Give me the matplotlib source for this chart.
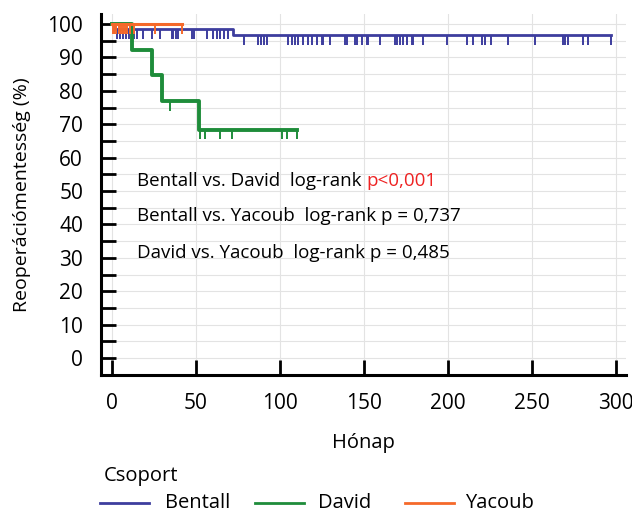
import numpy as np
import matplotlib
matplotlib.use("Agg")
import matplotlib.pyplot as plt
from matplotlib.lines import Line2D

plt.rcParams['font.family'] = ['Open Sans', 'DejaVu Sans']

# Kaplan-Meier steps (months, survival %)
bentall_t = [0, 2, 72]
bentall_s = [100, 98.5, 96.7]
bentall_end = 297
bentall_cens = [1, 3, 5, 6.9, 8.5, 10.5, 12.9, 14.9, 18.8, 23.8, 28.8, 35.7, 36.7, 38.3,
                39.1, 47.6, 49, 56.5, 60.5, 62.5, 64.5, 66.5, 69, 78.6, 87.3, 88.7, 90.5,
                92.3, 105.1, 107.1, 109.1, 111.1, 114, 117, 119.4, 122, 125, 125.6, 130,
                138.9, 139.9, 144.8, 146.2, 148.8, 151.8, 152.7, 159.7, 168.6, 170, 171.6,
                173.6, 175.6, 178.6, 179.5, 185.5, 199.4, 211.3, 215.3, 220.2, 222.2,
                225.6, 236.1, 252, 268.8, 269.8, 271.8, 280.7, 283.7, 297]

david_t = [0, 12, 24, 30, 52]
david_s = [100, 92.3, 84.6, 76.9, 68.4]
david_end = 110
david_cens = [34.7, 52.5, 55.5, 64.5, 71.8, 101.2, 104.2, 110]

yacoub_t = [0]
yacoub_s = [100]
yacoub_end = 42
yacoub_cens = [0.6, 1.4, 2.6, 4, 5.4, 6.5, 7.9, 9.3, 10.9, 12.9, 25.8, 42]

groups = ['Bentall', 'David', 'Yacoub']
colors = ['#3d3d9e', '#1e8c3a', '#f5692a']
widths = [2.0, 2.8, 2.2]

stats_lines = [("Bentall vs. David  log-rank ", "p<0,001"),
               ("Bentall vs. Yacoub  log-rank p = 0,737", None),
               ("David vs. Yacoub  log-rank p = 0,485", None)]
stats_y = [53, 42.5, 31.4]

W, H = 632, 515
fig = plt.figure(figsize=(W / 100, H / 100), dpi=100)
ax = fig.add_axes([0.160, 0.272, 0.830, 0.701])


def km(ax, t, s, end, cens, color, lw):
    xs = list(t) + [end]
    ys = list(s) + [s[-1]]
    ax.step(xs, ys, where='post', color=color, lw=lw, zorder=3)
    c = np.array(cens)
    idx = np.searchsorted(np.array(t), c, side='right') - 1
    cy = np.array(s)[idx]
    ax.vlines(c, cy - 2.9, cy, color=color, lw=1.4, zorder=3)


data = [(bentall_t, bentall_s, bentall_end, bentall_cens),
        (david_t, david_s, david_end, david_cens),
        (yacoub_t, yacoub_s, yacoub_end, yacoub_cens)]
for (t, s, end, cens), col, lw in zip(data, colors, widths):
    km(ax, t, s, end, cens, col, lw)

ax.set_xlim(-6.4, 306)
ax.set_ylim(-5, 103)
ax.set_xticks(np.arange(0, 301, 50))
ax.set_yticks(np.arange(0, 101, 10))
ax.set_yticks(np.arange(5, 100, 10), minor=True)
ax.grid(True, which='both', color='#e3e3e3', lw=0.8, zorder=0)
ax.set_axisbelow(True)
for sp in ['top', 'right']:
    ax.spines[sp].set_visible(False)
for sp in ['left', 'bottom']:
    ax.spines[sp].set_linewidth(2.2)
ax.tick_params(axis='both', which='both', direction='in', length=11, width=2, labelsize=15)
ax.tick_params(axis='x', pad=13)
ax.tick_params(axis='y', pad=13)
ax.set_xlabel('Hónap', fontsize=14.5, labelpad=14)
ax.set_ylabel('Reoperációmentesség (%)', fontsize=14, labelpad=12)

for (txt, red), y in zip(stats_lines, stats_y):
    t = ax.text(15, y, txt, fontsize=13.5, va='center', ha='left')
    if red:
        ax.annotate(red, xycoords=t, xy=(1, 0.5), va='center', ha='left',
                    fontsize=13.5, color='#ee2222')

# legend drawn by hand in figure pixels
fig.text(104 / W, 1 - 476 / H, 'Csoport', fontsize=14.5, va='center', ha='left')
leg_line_x = [100, 255, 405]
leg_text_x = [165, 318, 465]
leg_y = 1 - 503 / H
for name, col, lx, tx in zip(groups, colors, leg_line_x, leg_text_x):
    fig.add_artist(Line2D([lx / W, (lx + 49) / W], [leg_y, leg_y], color=col, lw=2,
                          transform=fig.transFigure))
    fig.text(tx / W, leg_y, name, fontsize=14.5, va='center', ha='left')

fig.savefig('out.png', dpi=100)
